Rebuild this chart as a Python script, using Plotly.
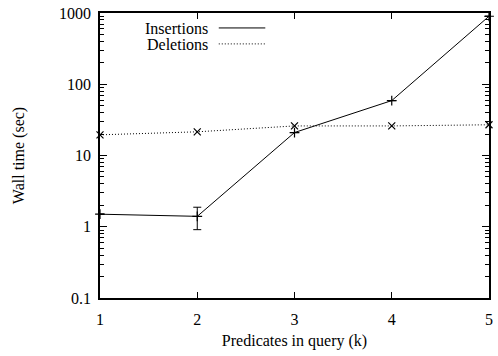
import plotly.graph_objects as go

k = [1, 2, 3, 4, 5]
insertions = [1.5, 1.4, 21, 59, 900]
ins_err_plus = [0.0, 0.48, 0.0, 0.0, 0.0]
ins_err_minus = [0.0, 0.49, 0.0, 0.0, 0.0]
deletions = [19.5, 21.5, 26, 26, 27]
y_ticks = [0.1, 1, 10, 100, 1000]
y_tick_labels = ["0.1", "1", "10", "100", "1000"]

font = dict(family="'Liberation Serif', 'Times New Roman', serif", size=16, color="black")
dotted = "1px,2px"

fig = go.Figure()
fig.add_trace(go.Scatter(
    x=k, y=insertions, mode="lines+markers", name="Insertions",
    line=dict(color="black", width=1),
    marker=dict(symbol="cross-thin", size=7, line=dict(color="black", width=1.2)),
    error_y=dict(type="data", symmetric=False, array=ins_err_plus, arrayminus=ins_err_minus,
                 color="black", thickness=1, width=4),
    cliponaxis=False, showlegend=False,
))
fig.add_trace(go.Scatter(
    x=k, y=deletions, mode="lines+markers", name="Deletions",
    line=dict(color="black", width=1, dash=dotted),
    marker=dict(symbol="x-thin", size=7, line=dict(color="black", width=1.2)),
    cliponaxis=False, showlegend=False,
))

# gnuplot-style key: text then line sample
fig.add_annotation(xref="paper", yref="paper", x=(211 - 100) / 393, y=(298 - 28) / 286,
                   text="Insertions", showarrow=False, xanchor="right", yanchor="middle", font=font)
fig.add_annotation(xref="paper", yref="paper", x=(211 - 100) / 393, y=(298 - 44) / 286,
                   text="Deletions", showarrow=False, xanchor="right", yanchor="middle", font=font)
fig.add_shape(type="line", xref="paper", yref="paper",
              x0=(220 - 100) / 393, x1=(267 - 100) / 393, y0=(298 - 27) / 286, y1=(298 - 27) / 286,
              line=dict(color="black", width=1))
fig.add_shape(type="line", xref="paper", yref="paper",
              x0=(220 - 100) / 393, x1=(267 - 100) / 393, y0=(298 - 43) / 286, y1=(298 - 43) / 286,
              line=dict(color="black", width=1, dash=dotted))

fig.update_xaxes(
    range=[1, 5], tickvals=k, ticktext=[str(v) for v in k],
    ticks="inside", ticklen=6, tickwidth=1, tickcolor="black",
    showline=True, linecolor="black", linewidth=1.5, mirror="ticks",
    showgrid=False, zeroline=False, tickfont=font, ticklabelstandoff=6,
    title=dict(text="Predicates in query (k)", font=font, standoff=8),
)
fig.update_yaxes(
    type="log", range=[-1, 3], tickvals=y_ticks, ticktext=y_tick_labels,
    ticks="inside", ticklen=7, tickwidth=1, tickcolor="black",
    minor=dict(ticks="inside", ticklen=4, tickcolor="black", dtick="D1", showgrid=False),
    showline=True, linecolor="black", linewidth=1.5, mirror="ticks",
    showgrid=False, zeroline=False, tickfont=font, ticklabelstandoff=4,
    title=dict(text="Wall time (sec)", font=font, standoff=30),
)
fig.update_layout(
    width=498, height=356,
    margin=dict(l=100, r=5, t=12, b=58),
    plot_bgcolor="white", paper_bgcolor="white",
    font=font,
)
fig.write_html("out.html")
